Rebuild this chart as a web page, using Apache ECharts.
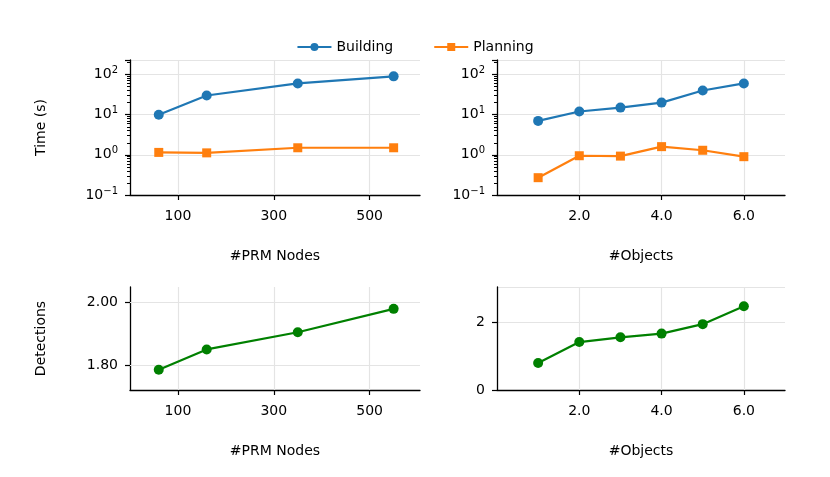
<!DOCTYPE html>
<html><head><meta charset="utf-8">
<script src="https://cdn.jsdelivr.net/npm/echarts@6/dist/echarts.min.js"></script>
<style>html,body{margin:0;background:#fff}#c{width:830px;height:477px}</style>
</head><body><div id="c"></div>
<script>
const prmNodes = [60, 160, 350, 550]
const buildPrm = [10, 30, 60, 90]
const planPrm = [1.15, 1.12, 1.5, 1.5]
const detPrm = [1.785, 1.85, 1.905, 1.98]
const objects = [1, 2, 3, 4, 5, 6]
const buildObj = [7, 12, 15, 20, 40, 60]
const planObj = [0.27, 0.95, 0.93, 1.6, 1.3, 0.9]
const detObj = [0.8, 1.42, 1.56, 1.67, 1.95, 2.48]

const FONT = 'DejaVu Sans'
const grid = { color: '#e4e4e4', width: 1.2 }
const axisBase = {
  axisLine: { show: true, lineStyle: { color: '#000', width: 1.3 } },
  axisTick: { show: true, inside: false, length: 5, lineStyle: { color: '#000', width: 1.2 } },
  axisLabel: { color: '#000', fontSize: 14, fontFamily: FONT, margin: 14 },
  nameTextStyle: { color: '#000', fontSize: 14, fontFamily: FONT },
  splitLine: { show: true, lineStyle: grid }
}
const pow = v => {
  const e = Math.round(Math.log10(v))
  if (Math.abs(Math.log10(v) - e) > 1e-6) return ''
  return '{b|10}{s|' + (e < 0 ? '−' + (-e) : e) + '}'
}
const logAxis = i => Object.assign({}, axisBase, {
  type: 'log', gridIndex: i, min: 0.1, max: 230, logBase: 10,
  axisLabel: Object.assign({}, axisBase.axisLabel, {
    formatter: pow, showMaxLabel: false, margin: 12,
    rich: { b: { fontSize: 14, fontFamily: FONT, color: '#000' }, s: { fontSize: 10, fontFamily: FONT, color: '#000', verticalAlign: 'top', padding: [0, 0, 8, 0] } }
  }),
  minorTick: { show: true, splitNumber: 9, length: 3, lineStyle: { color: '#000' } },
  name: i === 0 ? 'Time (s)' : '', nameLocation: 'middle', nameGap: 82
})
const prmX = i => Object.assign({}, axisBase, {
  type: 'value', gridIndex: i, min: 0, max: 605, interval: 200,
  axisLabel: Object.assign({}, axisBase.axisLabel, { customValues: [100, 300, 500] }),
  axisTick: Object.assign({}, axisBase.axisTick, { customValues: [100, 300, 500] }),
  splitLine: { show: false },
  name: '#PRM Nodes', nameLocation: 'middle', nameGap: 54
})
const objX = i => Object.assign({}, axisBase, {
  type: 'value', gridIndex: i, min: 0, max: 7, interval: 2,
  axisLabel: Object.assign({}, axisBase.axisLabel, { customValues: [2, 4, 6], formatter: v => v.toFixed(1) }),
  axisTick: Object.assign({}, axisBase.axisTick, { customValues: [2, 4, 6] }),
  splitLine: { show: false },
  name: '#Objects', nameLocation: 'middle', nameGap: 54
})
const vlines = vals => ({ silent: true, symbol: 'none', label: { show: false }, lineStyle: { color: grid.color, width: 1.2, type: 'solid' }, data: vals.map(v => ({ xAxis: v })) })
const line = (name, xs, ys, i, color, symbol, extra) => Object.assign({
  name, type: 'line', xAxisIndex: i, yAxisIndex: i,
  data: xs.map((x, k) => [x, ys[k]]),
  symbol, symbolSize: symbol === 'rect' ? 9 : 10, showSymbol: true,
  itemStyle: { color }, lineStyle: { color, width: 2.2 }, z: 5
}, extra || {})

const chart = echarts.init(document.getElementById('c'))
chart.setOption({
  animation: false,
  textStyle: { fontFamily: FONT },
  legend: {
    top: 35, left: 'center', itemGap: 40, itemWidth: 34, itemHeight: 10,
    textStyle: { fontSize: 14, color: '#000', fontFamily: FONT },
    data: ['Building', 'Planning']
  },
  grid: [
    { left: 130, top: 60, width: 290, height: 135 },
    { left: 497, top: 60, width: 288, height: 135 },
    { left: 130, top: 287, width: 290, height: 103 },
    { left: 497, top: 287, width: 288, height: 103 }
  ],
  xAxis: [prmX(0), objX(1), prmX(2), objX(3)],
  yAxis: [
    logAxis(0), logAxis(1),
    Object.assign({}, axisBase, {
      type: 'value', gridIndex: 2, min: 1.72, max: 2.05,
      axisLabel: Object.assign({}, axisBase.axisLabel, { customValues: [1.8, 2.0], formatter: v => v.toFixed(2), margin: 12 }),
      axisTick: Object.assign({}, axisBase.axisTick, { customValues: [1.8, 2.0] }),
      splitLine: { show: false },
      name: 'Detections', nameLocation: 'middle', nameGap: 82
    }),
    Object.assign({}, axisBase, { type: 'value', gridIndex: 3, min: 0, max: 3.05, interval: 2,
      axisLabel: Object.assign({}, axisBase.axisLabel, { showMaxLabel: false, margin: 12 }) })
  ],
  series: [
    line('Building', prmNodes, buildPrm, 0, '#1f77b4', 'circle', { markLine: vlines([100, 300, 500]) }),
    line('Planning', prmNodes, planPrm, 0, '#ff7f0e', 'rect'),
    line('Building', objects, buildObj, 1, '#1f77b4', 'circle', { markLine: vlines([2, 4, 6]) }),
    line('Planning', objects, planObj, 1, '#ff7f0e', 'rect'),
    line('Detections', prmNodes, detPrm, 2, '#008000', 'circle', { markLine: { ...vlines([]), data: [100, 300, 500].map(v => ({ xAxis: v })).concat([1.8, 2.0].map(v => ({ yAxis: v }))) } }),
    line('Detections', objects, detObj, 3, '#008000', 'circle', { markLine: vlines([2, 4, 6]) })
  ]
})
</script></body></html>
